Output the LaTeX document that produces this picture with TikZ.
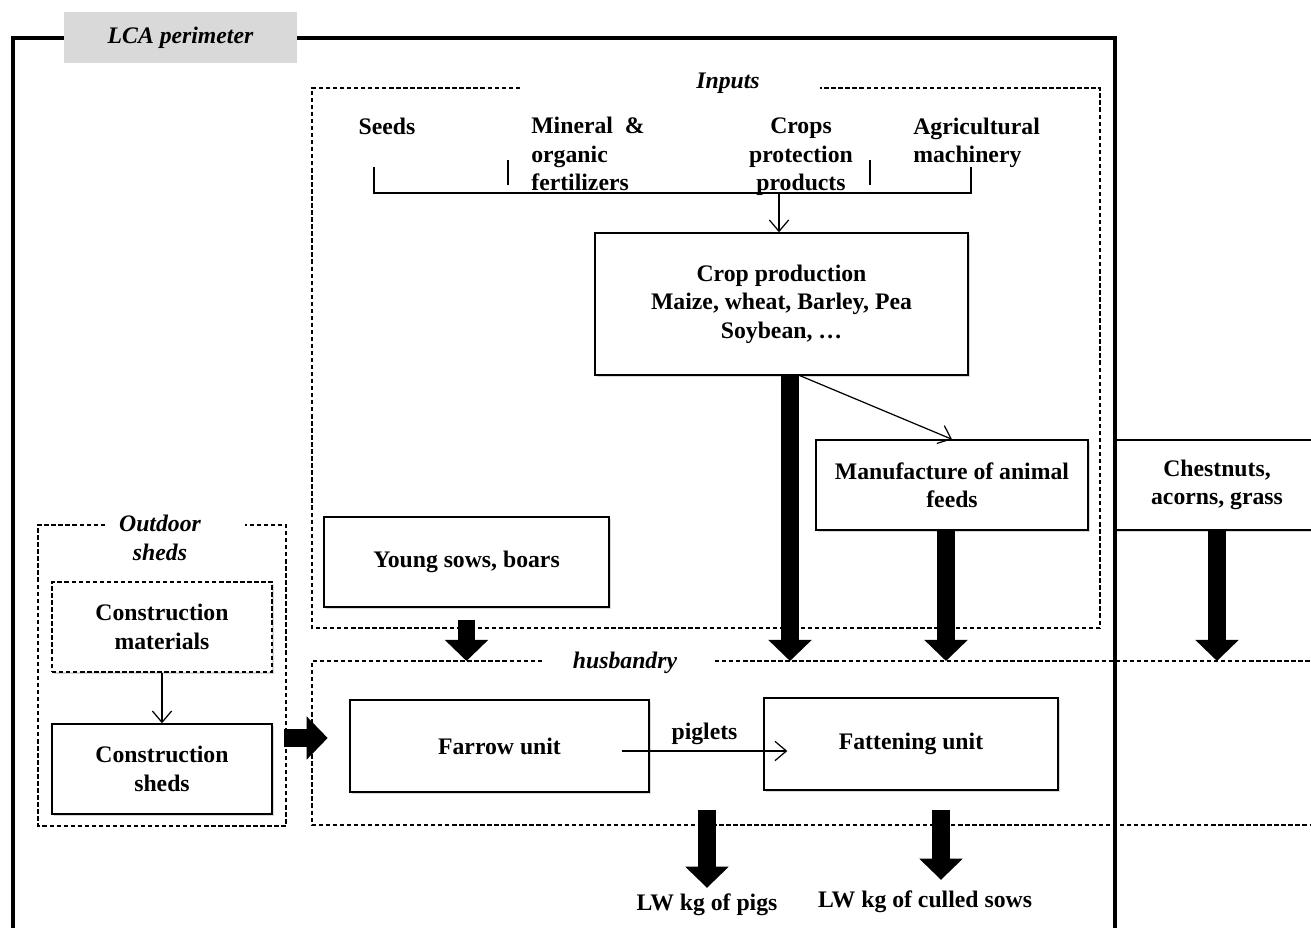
\documentclass[tikz,border=0pt]{standalone}
\usepackage{fontspec}
\setmainfont{Liberation Serif}
\usetikzlibrary{arrows.meta,calc,shadows}
\definecolor{lcagray}{RGB}{217,217,217}

\begin{document}
\begin{tikzpicture}[x=0.02cm, y=-0.02cm,
    every node/.style={font=\fontsize{13.5}{16.2}\selectfont\bfseries},
    box/.style={draw, rectangle, line width=0.8pt, fill=white, align=center,
        drop shadow={shadow xshift=1pt, shadow yshift=-1.2pt, opacity=0.3}},
    dashbox/.style={box, dash pattern=on 2.5pt off 1.5pt, line width=0.6pt},
    dashframe/.style={dash pattern=on 2.5pt off 1.5pt, line width=0.6pt},
    perimeter/.style={line width=2.4pt},
    title/.style={font=\fontsize{13.5}{16.2}\selectfont\bfseries\itshape, align=center},
    fatarrow/.style={line width=10pt, -{Triangle[width=24pt,length=12pt]}},
    flow/.style={line width=0.7pt, -{Straight Barb[length=6.5pt,width=11pt]}}]
    \useasboundingbox (0,0) rectangle (1311,928);

    % Frames
    \draw[dashframe] (520,88) -- (312,88) -- (312,628) -- (1100,628) -- (1100,88) -- (820,88);
    \node (inputs) [title] at (728,83) {Inputs};
    \draw[dashframe] (542,661) -- (312,661) -- (312,825) -- (1320,825);
    \draw[dashframe] (715,661) -- (1320,661);
    \node (husbandry) [title] at (625,663) {husbandry};
    \coordinate (husb) at (312,661);
    \draw[dashframe] (105,525) -- (38,525) -- (38,826) -- (286,826) -- (286,525) -- (245,525);
    \node (outdoor) [title] at (160,538) {Outdoor\\sheds};

    % Outside nodes
    \node (chestnuts) [box, minimum width=4.1cm, minimum height=1.8cm] at (1217,485) {Chestnuts,\\acorns, grass};

    % LCA perimeter
    \draw[perimeter] (13,960) -- (13,38) -- (1115,38) -- (1115,960);
    \node (lca) [title, fill=lcagray, minimum width=4.66cm, minimum height=1.02cm] at (180.5,37.5) {LCA perimeter};

    % Input nodes
    \node (seeds) [inner sep=0] at (387,126) {Seeds};
    \node (mineral) [inner sep=0, anchor=west, align=left] at (531,154) {Mineral\ \ \&\\organic\\fertilizers};
    \node (crops) [inner sep=0, align=center] at (801,157) {Crops\\protection\\products};
    \node (machinery) [inner sep=0, anchor=west, align=left] at (913,143) {Agricultural\\machinery};

    % Production nodes
    \node (crop) [box, minimum width=7.46cm, minimum height=2.84cm] at (781.5,304) {Crop production\\Maize, wheat, Barley, Pea\\Soybean, \dots};
    \node (feeds) [box, minimum width=5.44cm, minimum height=1.8cm] at (952,485) {Manufacture of animal\\feeds};
    \node (youngsows) [box, minimum width=5.7cm, minimum height=1.8cm] at (466.5,562) {Young sows, boars};

    % Shed nodes
    \node (materials) [dashbox, minimum width=4.4cm, minimum height=1.8cm] at (162,627) {Construction\\materials};
    \node (sheds) [box, minimum width=4.4cm, minimum height=1.8cm] at (162,769) {Construction\\sheds};

    % Husbandry nodes
    \node (farrow) [box, minimum width=5.98cm, minimum height=1.84cm] at (499.5,746) {Farrow unit};
    \node (fattening) [box, minimum width=5.88cm, minimum height=1.84cm] at (911,744) {Fattening unit};

    % Output nodes
    \node (pigs) at (707,905) {LW kg of pigs};
    \node (culled) at (925,902) {LW kg of culled sows};

    % Bracket
    \coordinate (bar) at (779,193);
    \draw[line width=0.7pt] (374,167) -- (374,193) -- (971,193) -- (971,167);
    \draw[line width=0.7pt] (508,160) -- (508,185);
    \draw[line width=0.7pt] (870,160) -- (870,185);

    % Arrows
    \draw[flow] (bar) -- (bar |- crop.north);
    \draw[flow] ($(crop.south)+(18.5,0)$) -- (feeds.north);
    \draw[flow] (materials) -- (sheds);
    \draw[flow] ($(farrow.east)+(-28,5)$) -- node[above] {piglets} ($(fattening.west)+(24,7)$);

    \coordinate (cropout) at ($(crop.south)+(8.5,0)$);
    \draw[fatarrow] (cropout) -- (cropout |- husb);
    \draw[fatarrow] ($(feeds.south)+(-6,0)$) -- ($(feeds.south |- husb)+(-6,0)$);
    \draw[fatarrow] (chestnuts.south) -- (chestnuts.south |- husb);
    \draw[fatarrow] ($(youngsows.south)+(0,12)$) -- (youngsows.south |- husb);
    \draw[fatarrow] ($(sheds.east)+(11,-31)$) -- ($(sheds.east)+(55,-31)$);
    \draw[fatarrow] ($(pigs.north)+(0,-78)$) -- (pigs.north);
    \draw[fatarrow] ($(culled.north)+(16,-75)$) -- ($(culled.north)+(16,-5)$);
\end{tikzpicture}
\end{document}
